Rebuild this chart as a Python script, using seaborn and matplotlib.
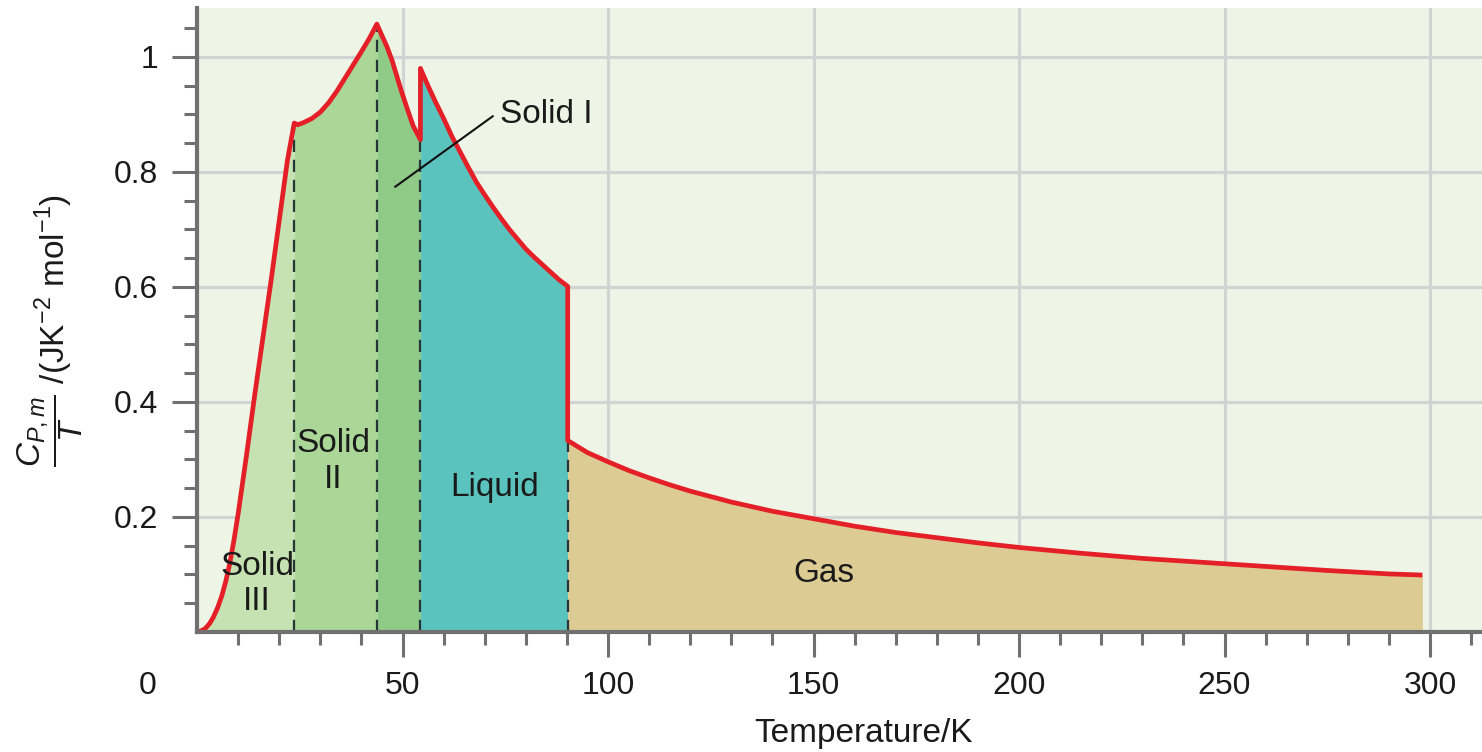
import numpy as np
import pandas as pd
import matplotlib
matplotlib.use("Agg")
import matplotlib.pyplot as plt
import matplotlib.transforms as mtransforms
from matplotlib.ticker import FixedLocator
import seaborn as sns

# ---------------- data ----------------
solid3_T = [0, 1, 2, 3, 4, 5, 6, 7, 8, 9, 10, 11, 12, 14, 16, 18, 20, 22, 23.66]
solid3_C = [0, 0.002, 0.006, 0.014, 0.026, 0.042, 0.062, 0.088, 0.12, 0.16, 0.205, 0.255,
            0.305, 0.41, 0.51, 0.61, 0.715, 0.82, 0.885]
solid2_T = [23.66, 24.5, 26, 28, 30, 32, 34, 36, 38, 40, 42, 43.76]
solid2_C = [0.885, 0.882, 0.886, 0.893, 0.904, 0.92, 0.94, 0.963, 0.986, 1.009, 1.033, 1.057]
solid1_T = [43.76, 45, 46.2, 47.5, 49.4, 51, 52.6, 54.36]
solid1_C = [1.057, 1.037, 1.018, 0.993, 0.948, 0.913, 0.880, 0.856]
liquid_T = [54.36, 56, 58, 60, 62, 64, 66, 68, 70, 72, 74, 76, 78, 80, 82, 84, 86, 88, 90.19]
liquid_C = [0.980, 0.953, 0.922, 0.893, 0.862, 0.835, 0.808, 0.782, 0.760, 0.739, 0.719,
            0.700, 0.683, 0.666, 0.652, 0.639, 0.626, 0.613, 0.601]
gas_T = [90.19, 95, 100, 105, 110, 115, 120, 130, 140, 150, 160, 170, 180, 190, 200,
         215, 230, 245, 260, 275, 290, 298.15]
gas_C = [0.333, 0.312, 0.296, 0.281, 0.268, 0.256, 0.245, 0.226, 0.210, 0.197, 0.184,
         0.173, 0.164, 0.155, 0.147, 0.137, 0.128, 0.121, 0.114, 0.107, 0.101, 0.099]

phase_names = ["Solid III", "Solid II", "Solid I", "Liquid", "Gas"]
phase_T = [solid3_T, solid2_T, solid1_T, liquid_T, gas_T]
phase_C = [solid3_C, solid2_C, solid1_C, liquid_C, gas_C]
phase_colors = ["#c6e2b2", "#aad698", "#8fcb87", "#5ac3bd", "#dccb93"]

x_major = [50, 100, 150, 200, 250, 300]
y_major = [0.2, 0.4, 0.6, 0.8, 1.0]
y_major_labels = ["0.2", "0.4", "0.6", "0.8", "1"]
x_minor = list(range(10, 320, 10))
y_minor = [round(0.05 * i, 2) for i in range(1, 22)]

# ---------------- style ----------------
sns.set_theme(style="ticks")
plt.rcParams["font.family"] = ["Liberation Sans", "DejaVu Sans"]
plt.rcParams["mathtext.fontset"] = "custom"
plt.rcParams["mathtext.rm"] = "Liberation Sans"
plt.rcParams["mathtext.it"] = "Liberation Sans:italic"
plt.rcParams["mathtext.bf"] = "Liberation Sans:bold"

W, H = 1482, 752
fig = plt.figure(figsize=(W / 100, H / 100), dpi=100)
ax = fig.add_axes([197 / W, 120 / H, 1285 / W, 624 / H])
ax.set_facecolor("#eef5e6")
ax.set_xlim(0, 312.65)
ax.set_ylim(0, 1.085)

# grid
ax.set_xticks(x_major)
ax.set_yticks(y_major)
ax.set_yticklabels(y_major_labels)
ax.xaxis.set_minor_locator(FixedLocator(x_minor))
ax.yaxis.set_minor_locator(FixedLocator(y_minor))
ax.grid(True, which="major", color="#d2d4d4", lw=2.3, zorder=0)
ax.set_axisbelow(True)

# fills
for T, C, col in zip(phase_T, phase_C, phase_colors):
    ax.fill_between(T, 0, C, color=col, lw=0, zorder=2)

# dashed phase boundaries
bounds = [(solid3_T[-1], solid3_C[-1]), (solid2_T[-1], solid2_C[-1]),
          (solid1_T[-1], solid1_C[-1]), (gas_T[0], gas_C[0])]
for t, c in bounds:
    ax.plot([t, t], [0, c], color="#263636", lw=1.6, dashes=(5.5, 3.5), zorder=3)

# red curve
df = pd.DataFrame({
    "T": np.concatenate(phase_T),
    "C": np.concatenate(phase_C),
})
sns.lineplot(data=df, x="T", y="C", sort=False, estimator=None, color="#e41f27",
             lw=3.4, ax=ax, zorder=5, solid_joinstyle="round", solid_capstyle="butt")

# spines and ticks
sns.despine(ax=ax)
for s in ["left", "bottom"]:
    ax.spines[s].set_color("#707070")
    ax.spines[s].set_linewidth(3)
    ax.spines[s].set_zorder(6)
ax.tick_params(axis="both", which="major", length=18, width=2.2, color="#707070",
               labelsize=23, pad=10, labelcolor="#1a1a1a")
ax.tick_params(axis="both", which="minor", length=9.5, width=2.2, color="#707070")

# corner "0" label
trans0 = mtransforms.offset_copy(ax.get_xaxis_transform(), fig=fig, y=-28, units="points")
ax.text(-11.9, 0, "0", transform=trans0, ha="center", va="top", fontsize=23, color="#1a1a1a")

# axis labels
ax.set_xlabel("Temperature/K", fontsize=24, color="#1a1a1a")
ax.xaxis.set_label_coords(0.519, -0.138)
ax.set_ylabel(r"$\dfrac{C_{P,m}}{T}$ /(JK$^{-2}$ mol$^{-1}$)", fontsize=24, color="#1a1a1a")
ax.yaxis.set_label_coords(-0.087, 0.484)

# region labels
txt = dict(fontsize=24, color="#1a1a1a", ha="center", va="center", zorder=7)
ax.text(14.6, 0.0835, "Solid\nIII", **txt)
ax.text(33.1, 0.296, "Solid\nII", **txt)
ax.text(72.3, 0.252, "Liquid", **txt)
ax.text(152.6, 0.101, "Gas", **txt)
ax.plot([48.2, 72.0], [0.774, 0.897], color="#111111", lw=1.5, zorder=7)
ax.text(73.7, 0.899, "Solid I", fontsize=24, color="#1a1a1a", ha="left", va="center", zorder=7)

fig.savefig("out.png", dpi=100)
